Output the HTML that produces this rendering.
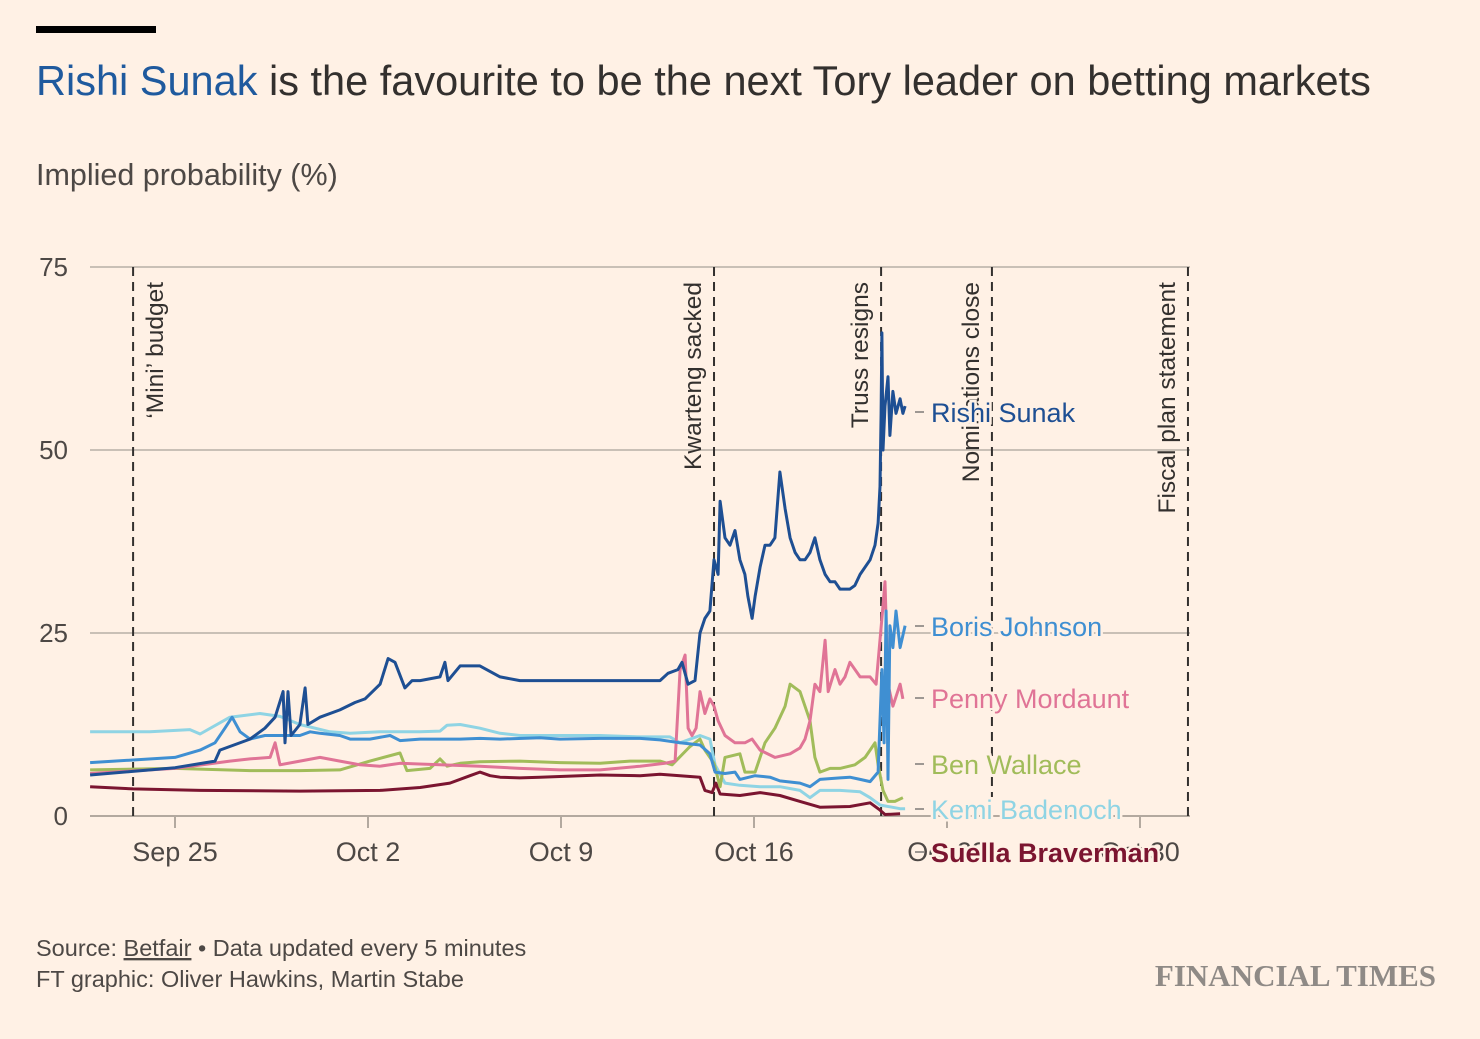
<!DOCTYPE html>
<html><head><meta charset="utf-8"><style>
body{margin:0;background:#fff1e5;width:1480px;height:1034px;overflow:hidden;font-family:"Liberation Sans",sans-serif;}
</style></head><body>
<svg width="1480" height="1034" xmlns="http://www.w3.org/2000/svg">
<rect width="1480" height="1034" fill="#fff1e5"/>
<rect x="36" y="26" width="120" height="7" fill="#000"/>
<text x="36" y="95" font-size="41.5" fill="#33302e"><tspan fill="#1f5a9e">Rishi Sunak</tspan> is the favourite to be the next Tory leader on betting markets</text>
<text x="36" y="185" font-size="30.5" fill="#4d4845">Implied probability (%)</text>
<g id="grid"></g><g id="events"></g><g id="lines"></g><g id="labels"></g>
<text x="36" y="956" font-size="23.5" fill="#4d4845">Source: <tspan text-decoration="underline">Betfair</tspan> • Data updated every 5 minutes</text>
<text x="36" y="987" font-size="23.5" fill="#4d4845">FT graphic: Oliver Hawkins, Martin Stabe</text>
<text x="1436" y="986" font-size="31" font-weight="bold" fill="#8f8a86" text-anchor="end" font-family="Liberation Serif, serif">FINANCIAL TIMES</text>
</svg>
<script>
const yTicks=[0,25,50,75];
const xTickDays=[0,7,14,21,28,35];
const xTickLabels=["Sep 25","Oct 2","Oct 9","Oct 16","Oct 23","Oct 30"];
const eventDays=[-1.52,19.55,25.61,29.63,36.74];
const eventLabels=["‘Mini’ budget","Kwarteng sacked","Truss resigns","Nominations close","Fiscal plan statement"];
const sunak=[[-3.08,5.6],[0,6.6],[1.45,7.5],[1.63,9],[2.72,10.5],[3.26,12],[3.63,13.5],[3.92,17],[3.99,10],[4.10,17],[4.21,11],[4.53,12.5],[4.72,17.5],[4.82,12.5],[5.26,13.5],[5.98,14.5],[6.53,15.5],[6.89,16],[7.44,18],[7.73,21.5],[7.98,21],[8.34,17.5],[8.60,18.5],[8.89,18.5],[9.61,19],[9.79,21],[9.90,18.5],[10.34,20.5],[11.06,20.5],[11.79,19],[12.51,18.5],[13.96,18.5],[15.42,18.5],[16.87,18.5],[17.59,18.5],[17.88,19.5],[18.24,20],[18.39,21],[18.61,18],[18.86,18.5],[19.04,25],[19.22,27],[19.40,28],[19.55,35],[19.70,33],[19.77,43],[19.95,38],[20.13,37],[20.31,39],[20.49,35],[20.67,33],[20.78,30],[20.93,27],[21.04,30],[21.22,34],[21.40,37],[21.58,37],[21.76,38],[21.94,47],[22.13,42],[22.31,38],[22.49,36],[22.67,35],[22.85,35],[23.03,36],[23.21,38],[23.39,35],[23.58,33],[23.76,32],[23.94,32],[24.12,31],[24.30,31],[24.48,31],[24.66,31.5],[24.85,33],[25.21,35],[25.39,37],[25.50,40],[25.57,45],[25.61,55],[25.64,66],[25.68,50],[25.75,56],[25.86,60],[25.93,52],[26.04,58],[26.15,55],[26.30,57],[26.40,55],[26.48,56]];
const boris=[[-3.08,7.3],[0,8],[0.91,9],[1.45,10],[1.81,12],[2.07,13.5],[2.36,11.5],[2.72,10.5],[3.26,11],[3.81,11],[4.53,11],[4.90,11.5],[5.26,11.3],[5.98,11],[6.35,10.5],[7.07,10.5],[7.80,11],[8.16,10.3],[8.89,10.5],[10.34,10.5],[11.06,10.6],[11.79,10.5],[13.24,10.7],[13.96,10.5],[15.42,10.6],[16.87,10.6],[17.59,10.4],[18.32,10.0],[19.04,9.7],[19.40,8.5],[19.59,6],[19.95,5.8],[20.31,6.0],[20.49,5.0],[21.04,5.5],[21.58,5.3],[21.94,4.8],[22.67,4.5],[23.03,4.0],[23.39,5],[24.12,5.2],[24.48,5.3],[24.85,5],[25.21,4.7],[25.50,6],[25.64,20],[25.72,10],[25.79,28],[25.86,5],[25.93,26],[26.04,23],[26.15,28],[26.30,23],[26.48,26]];
const penny=[[-3.08,5.8],[0,6.5],[1.99,7.5],[2.72,7.8],[3.45,8],[3.63,10],[3.81,7],[4.53,7.5],[5.26,8],[5.98,7.5],[6.71,7],[7.44,6.8],[8.16,7.2],[9.61,7.0],[11.06,6.8],[12.51,6.5],[13.96,6.3],[15.42,6.3],[16.87,6.8],[17.77,7.2],[18.14,7.5],[18.32,20],[18.50,22],[18.61,12],[18.75,11],[18.90,12],[19.04,17],[19.22,14],[19.40,16],[19.55,15],[19.70,13],[19.95,11],[20.31,10],[20.67,10],[20.93,10.5],[21.22,9],[21.76,8],[22.31,8.5],[22.67,9.3],[22.85,10.5],[23.03,13],[23.21,18],[23.39,17],[23.58,24],[23.69,17],[23.94,20],[24.12,18],[24.30,19],[24.48,21],[24.85,19],[25.21,19],[25.43,18],[25.64,27],[25.75,32],[25.86,18],[26.04,15],[26.30,18],[26.40,16]];
const wallace=[[-3.08,6.3],[0,6.5],[2.72,6.2],[4.53,6.2],[5.98,6.3],[7.07,7.5],[8.16,8.6],[8.41,6.2],[9.25,6.5],[9.61,7.8],[9.87,6.8],[10.34,7.2],[11.06,7.4],[12.51,7.5],[13.96,7.3],[15.42,7.2],[16.50,7.5],[17.59,7.5],[18.03,7.0],[18.68,9.5],[19.04,10.5],[19.22,9],[19.55,7.2],[19.77,4],[19.95,8],[20.49,8.5],[20.67,6],[21.04,6],[21.40,10],[21.76,12],[22.13,15],[22.31,18],[22.49,17.5],[22.67,17],[22.85,15],[23.03,13],[23.21,8],[23.39,6],[23.76,6.5],[24.12,6.5],[24.66,7],[25.03,8],[25.21,9],[25.39,10],[25.50,7],[25.68,3.5],[25.86,2],[26.11,2],[26.40,2.5]];
const kemi=[[-3.08,11.5],[-0.91,11.5],[0.54,11.8],[0.91,11.2],[1.99,13.5],[3.08,14],[3.81,13.6],[4.53,12.5],[5.62,11.5],[6.35,11.3],[7.44,11.5],[8.89,11.5],[9.61,11.6],[9.87,12.4],[10.34,12.5],[11.06,12],[11.79,11.3],[12.51,11],[13.96,11],[15.42,11],[16.87,10.8],[17.95,10.8],[18.32,10],[19.04,11],[19.40,10.5],[19.59,7],[19.95,4.5],[20.49,4.2],[21.22,4],[21.94,4],[22.67,3.5],[23.03,2.5],[23.39,3.5],[24.12,3.5],[24.85,3.3],[25.21,2.5],[25.57,1.5],[26.30,1],[26.48,1]];
const suella=[[-3.08,4.0],[-1.52,3.7],[0.91,3.5],[4.53,3.4],[7.44,3.5],[8.89,3.9],[9.97,4.5],[10.70,5.5],[11.06,6],[11.43,5.5],[11.79,5.3],[12.51,5.2],[13.24,5.3],[13.96,5.4],[15.42,5.6],[16.87,5.5],[17.59,5.7],[18.32,5.5],[19.04,5.3],[19.22,3.5],[19.48,3.2],[19.62,4.5],[19.77,3.0],[20.49,2.8],[21.22,3.2],[21.94,2.8],[22.67,2.0],[23.39,1.2],[24.48,1.3],[25.21,1.8],[25.57,0.8],[25.75,0.2],[26.30,0.3]];
const series=[
 {name:"Suella Braverman",data:suella,color:"#7b1530",ly:853},
 {name:"Kemi Badenoch",data:kemi,color:"#8fd4e4",ly:810},
 {name:"Ben Wallace",data:wallace,color:"#a1bc5a",ly:765},
 {name:"Penny Mordaunt",data:penny,color:"#e07496",ly:699},
 {name:"Boris Johnson",data:boris,color:"#3f8fd2",ly:627},
 {name:"Rishi Sunak",data:sunak,color:"#1e4f93",ly:413}
];
const NS="http://www.w3.org/2000/svg";
const X0=90,X1=1190,Y0=816;
const xs=d=>175+d*27.571;
const ys=v=>Y0-v*7.32;
function mk(tag,attrs,parent){const e=document.createElementNS(NS,tag);for(const k in attrs)e.setAttribute(k,attrs[k]);parent.appendChild(e);return e;}
const grid=document.getElementById('grid');
yTicks.forEach(t=>{
 const l=mk('line',{x1:X0,x2:X1,y1:ys(t),y2:ys(t),stroke:t===0?'#b3a99f':'#c9c0b6','stroke-width':2},grid);
 
 
 const tx=mk('text',{x:68,y:ys(t)+9,'font-size':26,fill:'#4d4845','text-anchor':'end'},grid);
 tx.textContent=t;
 
 
});
xTickDays.forEach((d,i)=>{
 const l=mk('line',{x1:xs(d),x2:xs(d),y1:Y0,y2:Y0+12,stroke:'#b3a99f','stroke-width':2},grid);
 
 
 const tx=mk('text',{x:xs(d),y:861,'font-size':27,fill:'#4d4845','text-anchor':'middle'},grid);
 tx.textContent=xTickLabels[i];
 
 
});
const ev=document.getElementById('events');
eventDays.forEach((d,i)=>{
 const x=xs(d);
 const l=mk('line',{x1:x,x2:x,y1:267,y2:Y0,stroke:'#33302e','stroke-width':2,'stroke-dasharray':'9,6'},ev);
 
 
 const off=i===0?30:-13;
 const tx=mk('text',{transform:`translate(${x+off},282) rotate(-90)`,'font-size':24.5,fill:'#33302e','text-anchor':'end'},ev);
 tx.textContent=eventLabels[i];
 
 
});
const lg=document.getElementById('lines'),lb=document.getElementById('labels');
series.forEach(s=>{
 const p=mk('path',{d:s.data.map((pt,i)=>(i?'L':'M')+xs(pt[0]).toFixed(1)+','+ys(pt[1]).toFixed(1)).join(''),fill:'none',stroke:s.color,'stroke-width':3,'stroke-linejoin':'round'},lg);
 
 
 const ly=s.ly;
 const c=mk('line',{x1:915,x2:924,y1:ly-1,y2:ly-1,stroke:'#9e9893','stroke-width':2},lb);
 
 
 const tx=mk('text',{x:931,y:ly+9,'font-size':27,fill:s.color,stroke:'#fff1e5','stroke-width':5,'paint-order':'stroke','font-weight':s.name==='Suella Braverman'?'bold':'normal'},lb);
 tx.textContent=s.name;
 
 
});
</script>
</body></html>
